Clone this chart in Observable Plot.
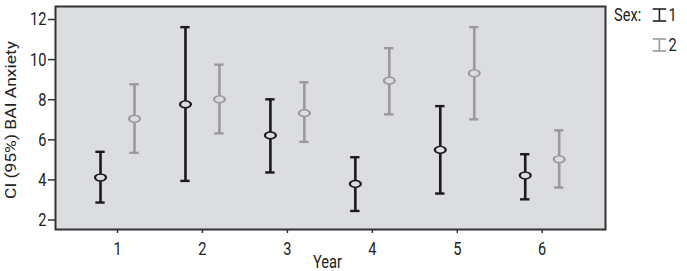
<!DOCTYPE html>
<html><head><meta charset="utf-8">
<script src="https://cdn.jsdelivr.net/npm/d3@7"></script>
<script src="https://cdn.jsdelivr.net/npm/@observablehq/plot@0.6"></script>
<style>
body{margin:0;background:#fff;font-family:Roboto,sans-serif;}
#wrap{position:relative;width:687px;height:271px;overflow:hidden;}
.mean circle{transform-box:fill-box;transform-origin:center;transform:scaleY(0.62);}
#legend{position:absolute;left:614px;top:0px;font-size:18.5px;color:#222;transform:scaleX(0.79);transform-origin:left top;}
#legend .row{display:flex;align-items:center;height:30px;}
#legend .lab{width:48px;}
#legend svg{margin-right:2px;}
</style></head><body>
<div id="wrap"><div id="chart"></div>
<div id="legend"></div></div>
<script>
const years = [1, 2, 3, 4, 5, 6];
const sexes = ["1", "2"];
const sexColors = ["#1a1a1a", "#9a9a9a"];
const mean1 = [4.12, 7.77, 6.22, 3.80, 5.50, 4.22];
const lower1 = [2.87, 3.95, 4.37, 2.45, 3.32, 3.03];
const upper1 = [5.40, 11.62, 8.02, 5.13, 7.68, 5.28];
const mean2 = [7.05, 8.02, 7.33, 8.95, 9.32, 5.03];
const lower2 = [5.35, 6.32, 5.90, 7.27, 7.02, 3.62];
const upper2 = [8.77, 9.75, 8.87, 10.57, 11.62, 6.47];
const yTicks = [2, 4, 6, 8, 10, 12];

const offset = {"1": -0.2, "2": 0.2};
const cap = 0.055;
const data = [];
years.forEach((yr, i) => {
  data.push({year: yr, sex: "1", mean: mean1[i], lo: lower1[i], hi: upper1[i]});
  data.push({year: yr, sex: "2", mean: mean2[i], lo: lower2[i], hi: upper2[i]});
});
data.forEach(d => { d.x = d.year + offset[d.sex]; });

const chart = Plot.plot({
  width: 687, height: 271,
  marginLeft: 55, marginRight: 82, marginTop: 6, marginBottom: 42,
  style: {fontFamily: "Roboto, sans-serif", fontSize: "18.5px", color: "#222", background: "transparent"},
  x: {domain: [0.27, 6.745], label: null},
  y: {domain: [1.525, 12.65], label: null},
  color: {domain: sexes, range: sexColors},
  marks: [
    Plot.frame({fill: "#dcdde0", stroke: "none"}),
    Plot.ruleX(data, {x: "x", y1: "lo", y2: "hi", stroke: "sex", strokeWidth: 2.6}),
    Plot.ruleY(data, {y: "hi", x1: d => d.x - cap, x2: d => d.x + cap, stroke: "sex", strokeWidth: 2.4}),
    Plot.ruleY(data, {y: "lo", x1: d => d.x - cap, x2: d => d.x + cap, stroke: "sex", strokeWidth: 2.4}),
    Plot.dot(data, {x: "x", y: "mean", r: 5.5, stroke: "sex", strokeWidth: 2.2, fill: "#dcdde0", className: "mean"}),
    Plot.frame({stroke: "#333", strokeWidth: 2}),
    Plot.axisY({ticks: yTicks, tickSize: 7, tickPadding: 2, stroke: "#333", strokeWidth: 1.5, label: null, className: "hz"}),
    Plot.axisX({ticks: years, tickFormat: d => String(d), tickSize: 4, tickPadding: 8, stroke: "#333", strokeWidth: 1.5, label: null, className: "hz"}),
    Plot.text(["CI (95%) BAI Anxiety"], {frameAnchor: "left", textAnchor: "middle", dx: -44, dy: 2, rotate: -90, fontSize: 14, fill: "#222", className: "ylab"}),
    Plot.text(["Year"], {frameAnchor: "bottom", dy: 38, dx: -3, fontSize: 18.5, fill: "#222", className: "hz"})
  ]
});
document.getElementById("chart").appendChild(chart);

// emulate the reference's vertically stretched (condensed-looking) lettering
function squeeze(sel, sx, sy) {
  chart.querySelectorAll(sel).forEach(t => {
    const tr = t.getAttribute("transform") || "";
    t.setAttribute("transform", `${tr} scale(${sx},${sy})`);
  });
}
squeeze(".hz text", 0.79, 1);
squeeze(".ylab text", 1.25, 1);

const leg = document.getElementById("legend");
sexes.forEach((s, i) => {
  const row = document.createElement("div");
  row.className = "row";
  const c = i === 0 ? "#222" : "#9a9a9a";
  row.innerHTML = `<span class="lab">${i === 0 ? "Sex:" : ""}</span>` +
    `<svg width="19" height="16"><line x1="9.5" y1="2" x2="9.5" y2="14" stroke="${c}" stroke-width="2"/>` +
    `<line x1="1" y1="2" x2="18" y2="2" stroke="${c}" stroke-width="1.6"/>` +
    `<line x1="1" y1="14" x2="18" y2="14" stroke="${c}" stroke-width="1.6"/></svg>` +
    `<span>${s}</span>`;
  leg.appendChild(row);
});
</script>
</body></html>
